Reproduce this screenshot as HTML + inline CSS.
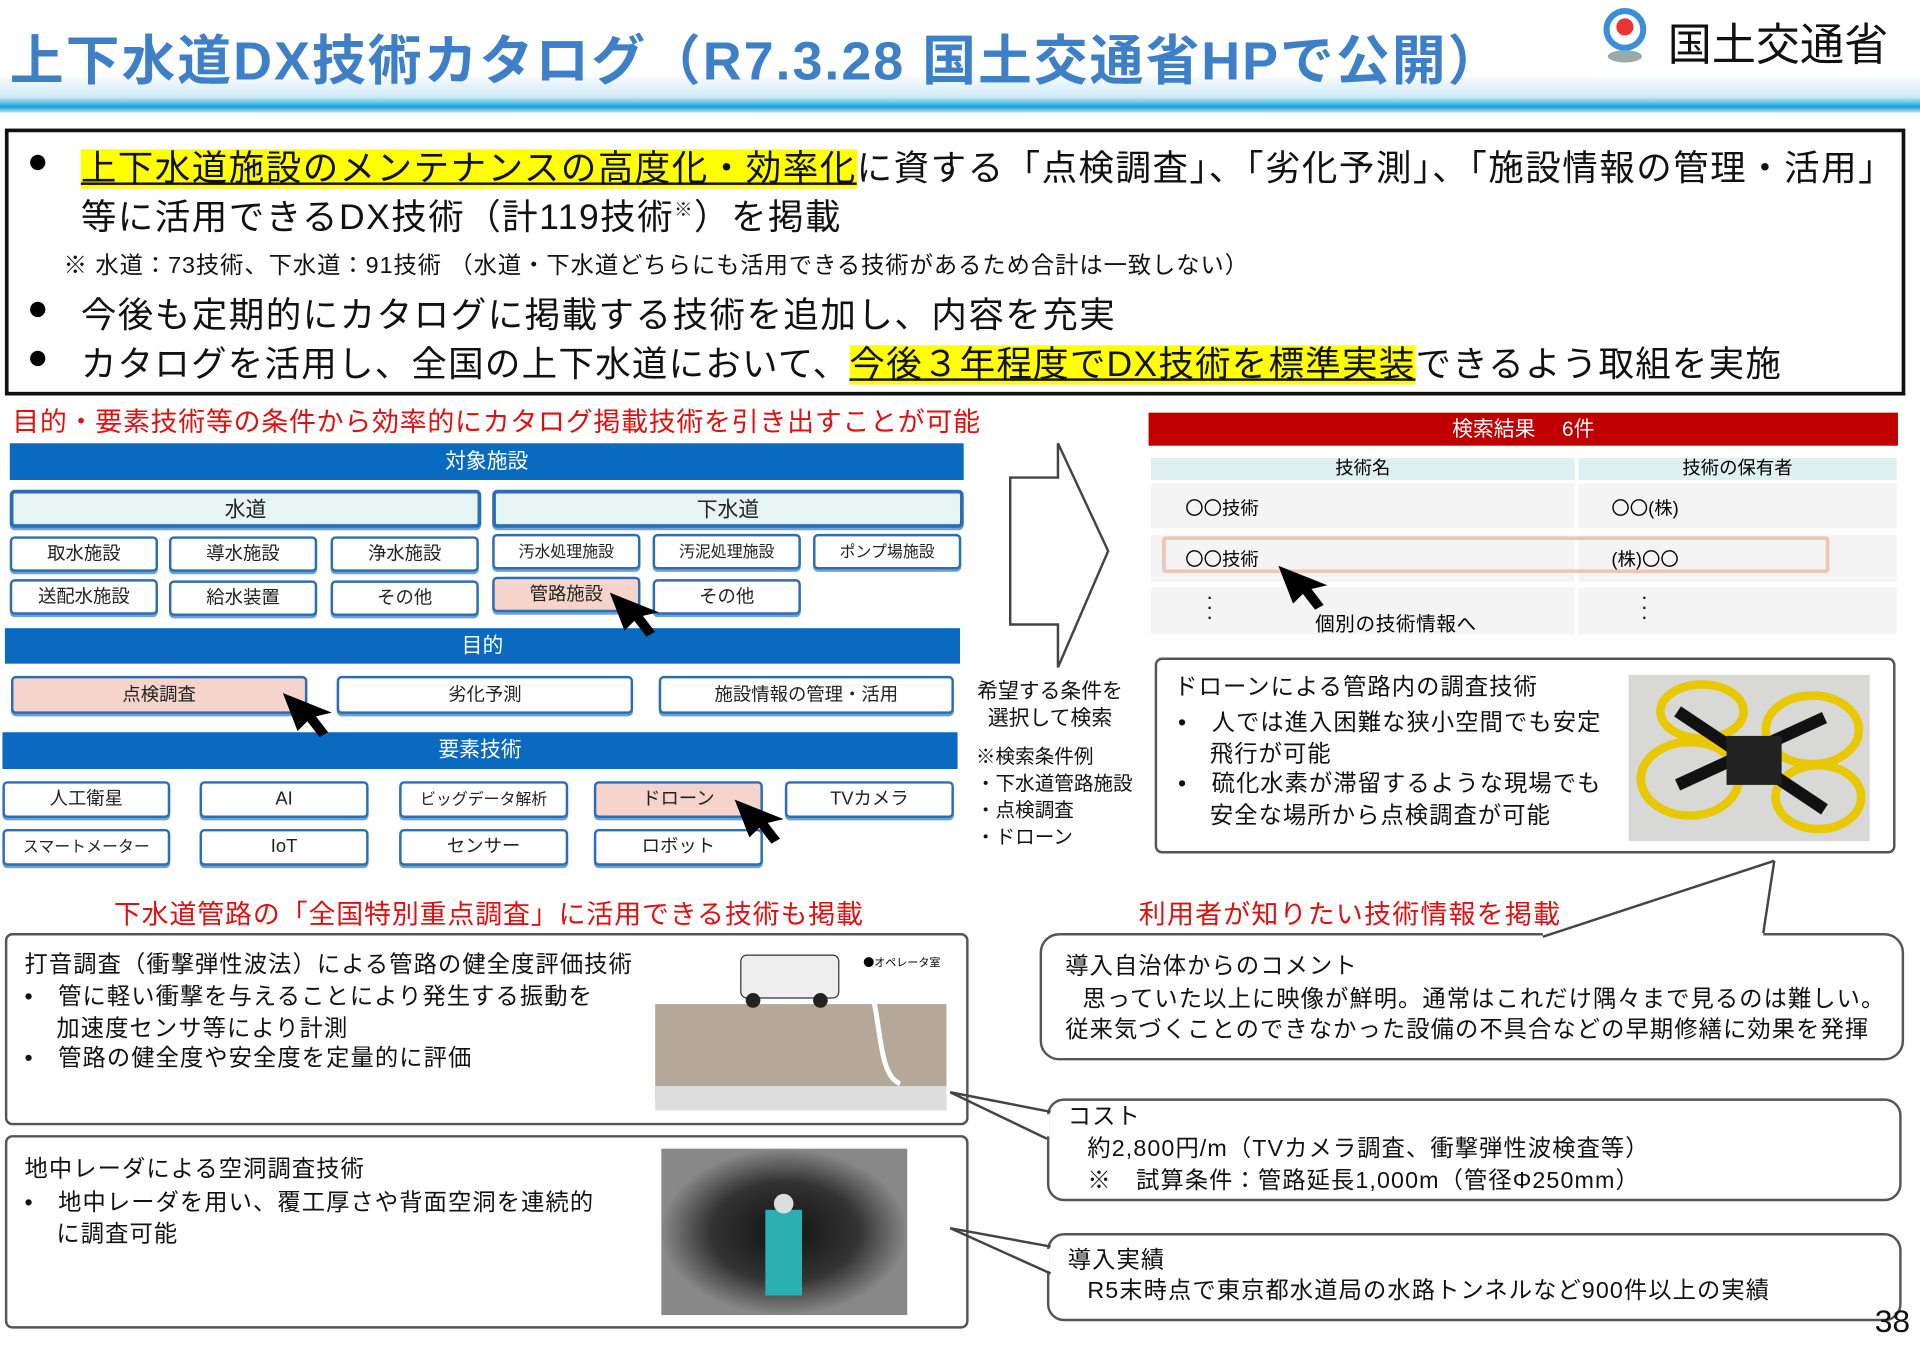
<!DOCTYPE html>
<html><head><meta charset="utf-8"><style>
*{margin:0;padding:0;box-sizing:border-box}
body{width:1920px;height:1352px;overflow:hidden;background:#fff;font-family:"Liberation Sans","Noto Sans CJK JP",sans-serif}
#s{position:absolute;left:0;top:0;width:1568px;height:1104px;transform:scale(1.22449);transform-origin:0 0}
.a{position:absolute;white-space:nowrap}
.bar{position:absolute;background:#0a6abf;color:#fff;font-size:17px;text-align:center;line-height:30px}
.btn{position:absolute;border:2px solid #2a6fb5;border-radius:4px;background:#fff;font-size:15px;text-align:center;color:#222;box-shadow:0 2px 0 #6fa0d0}
.pk{background:#f6d3cb}
.bx{position:absolute;border:2px solid #555;border-radius:6px;background:#fff}
.t{font-size:19px;color:#111;line-height:26px;letter-spacing:0.9px}
.red{color:#e01010}
.big{font-size:29px;color:#111;letter-spacing:1.2px}
</style></head><body><div id="s">
<!-- header -->
<div class="a" style="left:0;top:60px;width:1568px;height:32px;background:linear-gradient(#fff 0%,#e6f3fb 30%,#cfe9f7 60%,#5cc4ea 75%,#1aa0d8 85%,#bfe6f5 100%)"></div>
<div class="a" style="left:8px;top:14px;font-size:44px;font-weight:bold;color:#3d80c8;letter-spacing:1.6px">上下水道DX技術カタログ（R7.3.28 国土交通省HPで公開）</div>
<div class="a" style="left:1300px;top:0;width:268px;height:62px;background:#fff"></div>
<svg class="a" style="left:1305px;top:6px" width="44" height="48"><circle cx="22" cy="18" r="15" fill="none" stroke="#3a8fd8" stroke-width="5"/><circle cx="22" cy="16" r="7" fill="#e33"/><ellipse cx="22" cy="40" rx="14" ry="5" fill="#9aa"/></svg>
<div class="a" style="left:1362px;top:8px;font-size:36px;color:#111">国土交通省</div>
<!-- main box -->
<div class="a" style="left:4px;top:105px;width:1552px;height:218px;border:3px solid #111"></div>
<div class="a" style="left:22px;top:116px;font-size:29px">●</div>
<div class="a big" style="left:66px;top:114px"><span style="background:#ffff00;text-decoration:underline">上下水道施設のメンテナンスの高度化・効率化</span>に資する「点検調査」、「劣化予測」、「施設情報の管理・活用」</div>
<div class="a big" style="left:66px;top:154px">等に活用できるDX技術（計119技術<sup style="font-size:15px">※</sup>）を掲載</div>
<div class="a" style="left:52px;top:202px;font-size:19px;color:#111;letter-spacing:0.8px">※ 水道：73技術、下水道：91技術 （水道・下水道どちらにも活用できる技術があるため合計は一致しない）</div>
<div class="a" style="left:22px;top:236px;font-size:29px">●</div>
<div class="a big" style="left:66px;top:234px">今後も定期的にカタログに掲載する技術を追加し、内容を充実</div>
<div class="a" style="left:22px;top:276px;font-size:29px">●</div>
<div class="a big" style="left:66px;top:274px;letter-spacing:1px">カタログを活用し、全国の上下水道において、<span style="background:#ffff00;text-decoration:underline">今後３年程度でDX技術を標準実装</span>できるよう取組を実施</div>
<!-- left selection -->
<div class="a red" style="left:10px;top:327px;font-size:22px;letter-spacing:0.6px">目的・要素技術等の条件から効率的にカタログ掲載技術を引き出すことが可能</div>
<div class="bar" style="left:8px;top:362px;width:779px">対象施設</div>
<div class="btn" style="left:8px;top:400px;width:385px;height:31px;background:#e6f4f4;font-size:17px;line-height:27px;border-width:3px">水道</div>
<div class="btn" style="left:402px;top:400px;width:385px;height:31px;background:#e6f4f4;font-size:17px;line-height:27px;border-width:3px">下水道</div>
<div class="btn" style="left:8px;top:438px;width:121px;height:29px;line-height:25px">取水施設</div>
<div class="btn" style="left:138px;top:438px;width:121px;height:29px;line-height:25px">導水施設</div>
<div class="btn" style="left:270px;top:438px;width:121px;height:29px;line-height:25px">浄水施設</div>
<div class="btn" style="left:402px;top:436px;width:121px;height:29px;line-height:25px;font-size:13px">汚水処理施設</div>
<div class="btn" style="left:533px;top:436px;width:121px;height:29px;line-height:25px;font-size:13px">汚泥処理施設</div>
<div class="btn" style="left:664px;top:436px;width:121px;height:29px;line-height:25px;font-size:13px">ポンプ場施設</div>
<div class="btn" style="left:8px;top:473px;width:121px;height:29px;line-height:25px">送配水施設</div>
<div class="btn" style="left:138px;top:474px;width:121px;height:29px;line-height:25px">給水装置</div>
<div class="btn" style="left:270px;top:474px;width:121px;height:29px;line-height:25px">その他</div>
<div class="btn pk" style="left:402px;top:471px;width:121px;height:29px;line-height:25px">管路施設</div>
<div class="btn" style="left:533px;top:473px;width:121px;height:29px;line-height:25px">その他</div>
<div class="bar" style="left:4px;top:513px;width:780px;height:29px;line-height:29px">目的</div>
<div class="btn pk" style="left:9px;top:552px;width:242px;height:31px;line-height:27px">点検調査</div>
<div class="btn" style="left:275px;top:552px;width:242px;height:31px;line-height:27px">劣化予測</div>
<div class="btn" style="left:538px;top:552px;width:241px;height:31px;line-height:27px">施設情報の管理・活用</div>
<div class="bar" style="left:2px;top:598px;width:780px;height:30px">要素技術</div>
<div class="btn" style="left:2px;top:638px;width:137px;height:30px;line-height:26px">人工衛星</div>
<div class="btn" style="left:163px;top:638px;width:138px;height:30px;line-height:26px">AI</div>
<div class="btn" style="left:326px;top:638px;width:138px;height:30px;line-height:26px;font-size:13px">ビッグデータ解析</div>
<div class="btn pk" style="left:485px;top:638px;width:138px;height:30px;line-height:26px">ドローン</div>
<div class="btn" style="left:641px;top:638px;width:138px;height:30px;line-height:26px">TVカメラ</div>
<div class="btn" style="left:2px;top:677px;width:137px;height:30px;line-height:26px;font-size:13px">スマートメーター</div>
<div class="btn" style="left:163px;top:677px;width:138px;height:30px;line-height:26px">IoT</div>
<div class="btn" style="left:326px;top:677px;width:138px;height:30px;line-height:26px">センサー</div>
<div class="btn" style="left:485px;top:677px;width:138px;height:30px;line-height:26px">ロボット</div>
<!-- search results -->
<div class="a" style="left:938px;top:337px;width:612px;height:27px;background:#c00000;color:#fff;font-size:17px;text-align:center;line-height:27px">検索結果　 6件</div>
<div class="a" style="left:940px;top:374px;width:346px;height:18px;background:#dff0f0;font-size:15px;text-align:center;line-height:18px">技術名</div>
<div class="a" style="left:1289px;top:374px;width:260px;height:18px;background:#dff0f0;font-size:15px;text-align:center;line-height:18px">技術の保有者</div>
<div class="a" style="left:940px;top:395px;width:346px;height:36px;background:#f4f4f4"></div>
<div class="a" style="left:1289px;top:395px;width:260px;height:36px;background:#f4f4f4"></div>
<div class="a" style="left:940px;top:437px;width:346px;height:38px;background:#f4f4f4"></div>
<div class="a" style="left:1289px;top:437px;width:260px;height:38px;background:#f4f4f4"></div>
<div class="a" style="left:940px;top:480px;width:346px;height:38px;background:#f4f4f4"></div>
<div class="a" style="left:1289px;top:480px;width:260px;height:38px;background:#f4f4f4"></div>
<div class="a" style="left:949px;top:438px;width:545px;height:30px;border:3px solid #f3c2b8;border-radius:3px"></div>
<div class="a" style="left:968px;top:404px;font-size:15px">〇〇技術</div>
<div class="a" style="left:1316px;top:404px;font-size:15px">〇〇(株)</div>
<div class="a" style="left:968px;top:446px;font-size:15px">〇〇技術</div>
<div class="a" style="left:1316px;top:446px;font-size:15px">(株)〇〇</div>
<div class="a" style="left:985px;top:484px;font-size:17px;line-height:8px">·<br>·<br>·</div>
<div class="a" style="left:1340px;top:484px;font-size:17px;line-height:8px">·<br>·<br>·</div>
<div class="a" style="left:1074px;top:496px;font-size:16px;letter-spacing:0.5px">個別の技術情報へ</div>
<!-- drone box -->
<div class="bx" style="left:943px;top:537px;width:605px;height:160px"></div>
<div class="a t" style="left:959px;top:549px">ドローンによる管路内の調査技術</div>
<div class="a t" style="left:962px;top:578px">•　人では進入困難な狭小空間でも安定<br>　 飛行が可能</div>
<div class="a t" style="left:962px;top:628px">•　硫化水素が滞留するような現場でも<br>　 安全な場所から点検調査が可能</div>
<svg class="a" style="left:1330px;top:551px" width="197" height="136"><rect width="197" height="136" fill="#d8d8d6"/><ellipse cx="50" cy="85" rx="40" ry="30" fill="none" stroke="#e8c800" stroke-width="7"/><ellipse cx="150" cy="45" rx="38" ry="28" fill="none" stroke="#e8c800" stroke-width="7"/><ellipse cx="155" cy="100" rx="35" ry="26" fill="none" stroke="#e8c800" stroke-width="7"/><ellipse cx="60" cy="30" rx="34" ry="22" fill="none" stroke="#e8c800" stroke-width="7"/><path d="M40 30 L160 110 M40 90 L160 35" stroke="#111" stroke-width="10"/><rect x="80" y="50" width="45" height="40" fill="#222"/></svg>
<!-- red subtitles -->
<div class="a red" style="left:93px;top:729px;font-size:22px;letter-spacing:0.7px">下水道管路の「全国特別重点調査」に活用できる技術も掲載</div>
<div class="a red" style="left:930px;top:729px;font-size:22px;letter-spacing:1px">利用者が知りたい技術情報を掲載</div>
<!-- left boxes -->
<div class="bx" style="left:4px;top:762px;width:787px;height:157px"></div>
<div class="a t" style="left:20px;top:776px">打音調査（衝撃弾性波法）による管路の健全度評価技術</div>
<div class="a t" style="left:20px;top:802px">•　管に軽い衝撃を与えることにより発生する振動を<br>　 加速度センサ等により計測</div>
<div class="a t" style="left:20px;top:852px">•　管路の健全度や安全度を定量的に評価</div>
<svg class="a" style="left:535px;top:775px" width="238" height="132"><rect width="238" height="132" fill="#fff"/><rect x="0" y="45" width="238" height="80" fill="#b5a898"/><rect x="70" y="5" width="80" height="35" rx="5" fill="#eee" stroke="#333"/><circle cx="80" cy="42" r="6" fill="#222"/><circle cx="135" cy="42" r="6" fill="#222"/><rect x="0" y="112" width="238" height="20" fill="#ddd"/><path d="M160 20 C190 20 175 100 200 110" stroke="#fff" stroke-width="4" fill="none"/><text x="170" y="14" font-size="9" font-family="Noto Sans CJK JP">●オペレータ室</text></svg>
<div class="bx" style="left:4px;top:927px;width:787px;height:158px"></div>
<div class="a t" style="left:20px;top:943px">地中レーダによる空洞調査技術</div>
<div class="a t" style="left:20px;top:970px">•　地中レーダを用い、覆工厚さや背面空洞を連続的<br>　 に調査可能</div>
<svg class="a" style="left:540px;top:938px" width="201" height="136"><defs><radialGradient id="g"><stop offset="0" stop-color="#111"/><stop offset="0.6" stop-color="#333"/><stop offset="1" stop-color="#888"/></radialGradient></defs><rect width="201" height="136" fill="url(#g)"/><rect x="85" y="50" width="30" height="70" fill="#2ab0b0"/><circle cx="100" cy="45" r="8" fill="#ddd"/></svg>
<!-- right boxes -->
<div class="bx" style="left:849px;top:762px;width:706px;height:104px;border-radius:16px"></div>
<div class="a" style="left:1260px;top:760px;width:180px;height:4px;background:#fff"></div>
<div class="a t" style="left:870px;top:777px">導入自治体からのコメント</div>
<div class="a t" style="left:884px;top:804px">思っていた以上に映像が鮮明。通常はこれだけ隅々まで見るのは難しい。</div>
<div class="a t" style="left:870px;top:829px">従来気づくことのできなかった設備の不具合などの早期修繕に効果を発揮</div>
<div class="bx" style="left:855px;top:897px;width:698px;height:84px;border-radius:14px"></div>
<div class="a" style="left:852px;top:910px;width:5px;height:18px;background:#fff"></div>
<div class="a t" style="left:872px;top:900px">コスト</div>
<div class="a t" style="left:888px;top:926px">約2,800円/m（TVカメラ調査、衝撃弾性波検査等）</div>
<div class="a t" style="left:888px;top:952px">※　試算条件：管路延長1,000m（管径Φ250mm）</div>
<div class="bx" style="left:855px;top:1007px;width:698px;height:72px;border-radius:14px"></div>
<div class="a" style="left:852px;top:1020px;width:5px;height:18px;background:#fff"></div>
<div class="a t" style="left:872px;top:1017px">導入実績</div>
<div class="a t" style="left:888px;top:1042px">R5末時点で東京都水道局の水路トンネルなど900件以上の実績</div>
<div class="a" style="left:1531px;top:1064px;font-size:26px;color:#111">38</div>
<!-- overlays: cursors, arrow, connectors -->
<svg class="a" style="left:0;top:0" width="1568" height="1104">
<g fill="#000"><polygon points="498,484 538,500 525,503 535,516 528,520 518,507 510,515"/>
<polygon points="231,566 271,582 258,585 268,598 261,602 251,589 243,597"/>
<polygon points="600,653 640,669 627,672 637,685 630,689 620,676 612,684"/>
<polygon points="1044,462 1084,478 1071,481 1081,494 1074,498 1064,485 1056,493"/></g>
<polygon points="825,390 864,390 864,362 905,450 864,545 864,510 825,510" fill="#fff" stroke="#444" stroke-width="2"/>
<polyline points="1449,703 1440,762" fill="none" stroke="#444" stroke-width="2"/>
<polyline points="1449,703 1260,765" fill="none" stroke="#444" stroke-width="2"/>
<polyline points="776,892 855,930" fill="none" stroke="#444" stroke-width="2"/>
<polyline points="776,892 858,908" fill="none" stroke="#444" stroke-width="2"/>
<polyline points="776,1003 858,1040" fill="none" stroke="#444" stroke-width="2"/>
<polyline points="776,1003 858,1018" fill="none" stroke="#444" stroke-width="2"/>
</svg>
<div class="a" style="left:798px;top:554px;font-size:17px;line-height:22px;text-align:center;color:#111">希望する条件を<br>選択して検索</div>
<div class="a" style="left:797px;top:608px;font-size:16px;line-height:22px;color:#111">※検索条件例<br>・下水道管路施設<br>・点検調査<br>・ドローン</div>
</div></body></html>
